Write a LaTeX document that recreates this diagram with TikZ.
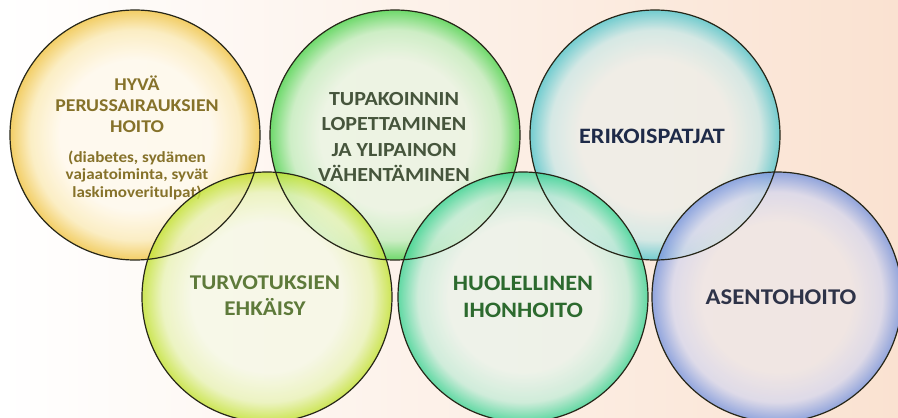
\documentclass[tikz,border=0pt]{standalone}
\usepackage{fontspec}
\setmainfont{Carlito}
\newfontfamily\widefont[FakeStretch=1.1]{Carlito}
\definecolor{bgR}{HTML}{FAE2D1}
\definecolor{cY}{HTML}{FFF9EC}\definecolor{mY}{HTML}{FBEBB8}\definecolor{eY}{HTML}{F0C445}
\definecolor{cG}{HTML}{EAF4E2}\definecolor{mG}{HTML}{C4EDBE}\definecolor{eG}{HTML}{4FD44F}
\definecolor{cC}{HTML}{EEEEE8}\definecolor{mC}{HTML}{CDE8E6}\definecolor{eC}{HTML}{55C6CC}
\definecolor{cT}{HTML}{F6F8E6}\definecolor{mT}{HTML}{E9F3B8}\definecolor{eT}{HTML}{C2E233}
\definecolor{cH}{HTML}{EBF3EA}\definecolor{mH}{HTML}{C6ECD8}\definecolor{eH}{HTML}{3FD495}
\definecolor{cA}{HTML}{EEE6E6}\definecolor{mA}{HTML}{D8D8EC}\definecolor{eA}{HTML}{7B97DE}
\definecolor{tY}{HTML}{86722A}
\definecolor{tG}{HTML}{46553C}
\definecolor{tC}{HTML}{1E2A48}
\definecolor{tT}{HTML}{5E7A3A}
\definecolor{tH}{HTML}{2C6A2E}
\definecolor{tA}{HTML}{2E3348}
\definecolor{rim}{HTML}{262618}
\pgfdeclareradialshading{shY}{\pgfpoint{0bp}{0bp}}{color(0bp)=(cY); color(15bp)=(cY); color(21bp)=(mY); color(25bp)=(eY); color(50bp)=(eY)}
\pgfdeclareradialshading{shG}{\pgfpoint{0bp}{0bp}}{color(0bp)=(cG); color(15bp)=(cG); color(21bp)=(mG); color(25bp)=(eG); color(50bp)=(eG)}
\pgfdeclareradialshading{shC}{\pgfpoint{0bp}{0bp}}{color(0bp)=(cC); color(15bp)=(cC); color(21bp)=(mC); color(25bp)=(eC); color(50bp)=(eC)}
\pgfdeclareradialshading{shT}{\pgfpoint{0bp}{0bp}}{color(0bp)=(cT); color(15bp)=(cT); color(21bp)=(mT); color(25bp)=(eT); color(50bp)=(eT)}
\pgfdeclareradialshading{shH}{\pgfpoint{0bp}{0bp}}{color(0bp)=(cH); color(15bp)=(cH); color(21bp)=(mH); color(25bp)=(eH); color(50bp)=(eH)}
\pgfdeclareradialshading{shA}{\pgfpoint{0bp}{0bp}}{color(0bp)=(cA); color(15bp)=(cA); color(21bp)=(mA); color(25bp)=(eA); color(50bp)=(eA)}
\tikzset{
  bubble/.style={circle, minimum size=250pt, inner sep=0pt, fill opacity=0.82},
  ring/.style={draw=rim, line width=1.2pt},
  lbl/.style={align=center, inner sep=0pt},
}
\newcommand{\fsz}[2]{\widefont\bfseries\fontsize{#1}{#2}\selectfont}
\begin{document}
\begin{tikzpicture}[x=1pt,y=-1pt]
\useasboundingbox (0,0) rectangle (898,418);
\shade[left color=white, right color=bgR] (0,0) rectangle (898,418);
% upper circles
\node[bubble, shading=shY] (cy) at (135,135) {};
\node[bubble, shading=shG] (cg) at (395,135) {};
\node[bubble, shading=shC] (cc) at (655,135) {};
\node[lbl, text=tY, font=\fsz{18}{21}] (ty) at (137,104) {HYVÄ\\PERUSSAIRAUKSIEN\\HOITO};
\node[lbl, text=tY, font=\fsz{15.5}{17.5}] (ty2) at (137,175) {(diabetes, sydämen\\vajaatoiminta, syvät\\laskimoveritulpat)};
\node[lbl, text=tG, font=\fsz{20}{25.5}] (tg) at (394,137) {TUPAKOINNIN\\LOPETTAMINEN\\JA YLIPAINON\\VÄHENTÄMINEN};
\node[lbl, text=tC, font=\fsz{22}{26}] (tc) at (652,136) {ERIKOISPATJAT};
% lower circles
\node[bubble, shading=shT] (ct) at (267,297) {};
\node[bubble, shading=shH] (ch) at (523,297) {};
\node[bubble, shading=shA] (ca) at (777,297) {};
\node[lbl, text=tT, font=\fsz{21}{26}] (tt) at (265,296) {TURVOTUKSIEN\\EHKÄISY};
\node[lbl, text=tH, font=\fsz{22}{27}] (th) at (523,297) {HUOLELLINEN\\IHONHOITO};
\node[lbl, text=tA, font=\fsz{22.5}{27}] (ta) at (781,297) {ASENTOHOITO};
% outlines
\foreach \c in {cy,cg,cc,ct,ch,ca} \draw[ring] (\c) circle (125pt);
\end{tikzpicture}
\end{document}
